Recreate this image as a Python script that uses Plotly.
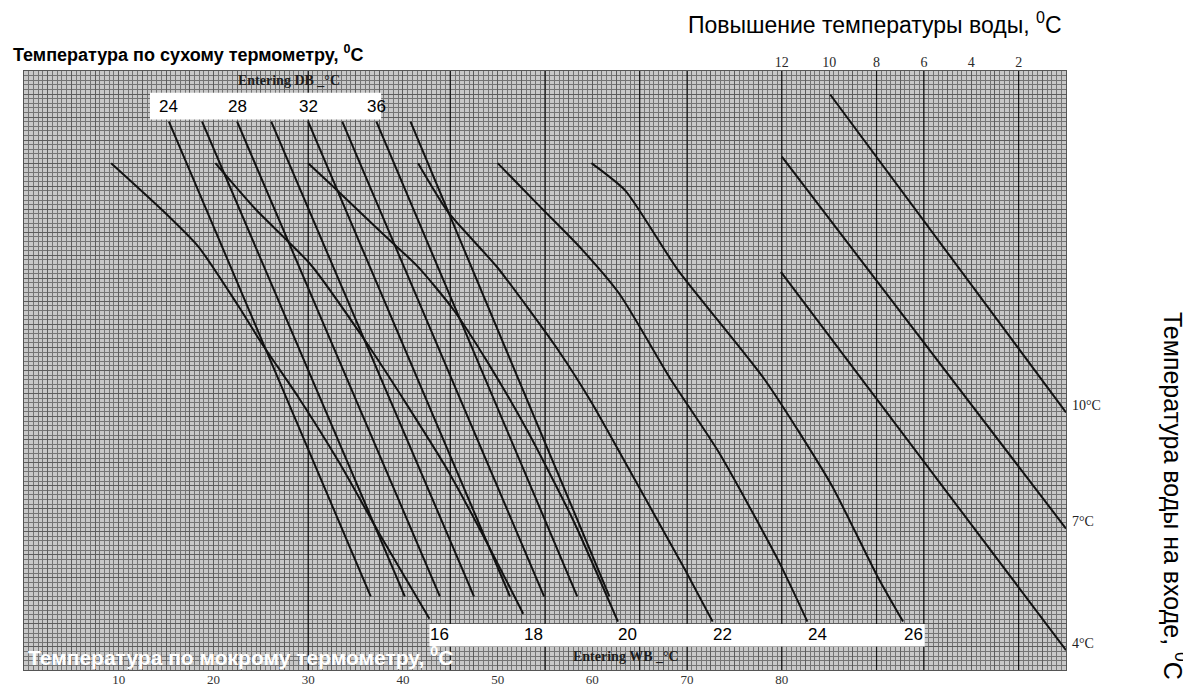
import plotly.graph_objects as go

# ---------------- data (chart units: x = bottom scale, y = grid rows x10) -------------
bottom_ticks = [10, 20, 30, 40, 50, 60, 70, 80]
rise_labels = ["12", "10", "8", "6", "4", "2"]
rise_positions = [80, 85, 90, 95, 100, 105]
dark_grid_x = [30, 45, 55, 65, 70, 80, 90, 95, 105]

# Entering dry-bulb lines (straight)
db_values = [24, 26, 28, 30, 32, 34, 36, 38]
db_x_top = [15.3, 18.8, 22.5, 26.1, 30.0, 33.6, 37.2, 40.8]
db_x_bottom = [36.6, 40.2, 43.9, 47.5, 51.3, 54.9, 58.4, 61.8]
db_y_top = 119
db_y_bottom = 16
db_labelled = [24, 28, 32, 36]

# Entering wet-bulb curves
wb_values = [16, 18, 20, 22, 24, 26]
wb16_x = [9.2, 14.5, 18.4, 22.6, 25.0, 29.0, 33.2, 37.9, 42.8]
wb16_y = [110, 100.0, 91.9, 79.1, 71.2, 59.1, 45.3, 28.2, 11.1]
wb18_x = [20.2, 24.4, 30.3, 36.0, 40.6, 44.8, 49.0, 52.7]
wb18_y = [110, 100.1, 87.9, 71.5, 57.0, 43.1, 27.1, 12.2]
wb20_x = [30.0, 32.6, 37.7, 41.6, 45.3, 49.0, 53.2, 58.0, 62.7]
wb20_y = [110, 105.0, 95.0, 87.5, 78.3, 66.6, 51.7, 32.4, 10.5]
wb22_x = [41.6, 44.8, 50.0, 56.4, 59.9, 63.4, 66.9, 69.8, 72.7]
wb22_y = [110, 99.3, 87.3, 69.4, 58.1, 45.3, 32.4, 21.7, 10.5]
wb24_x = [50.0, 54.6, 58.8, 62.9, 68.3, 73.3, 79.6, 82.7]
wb24_y = [110, 100.3, 91.5, 81.5, 63.0, 47.4, 23.9, 10.5]
wb26_x = [59.9, 63.5, 69.0, 78.2, 85.2, 90.1, 92.8]
wb26_y = [110, 104.0, 86.9, 63.0, 40.3, 20.3, 10.5]

# Entering water temperature lines
ewt_values = [10, 7, 4]
ewt_x_start = [85.1, 80.0, 79.9]
ewt_y_start = [124.9, 111.4, 86.4]
ewt_x_end = [110, 110, 110]
ewt_y_end = [55.9, 30.7, 4.3]

# ---------------- figure ----------------
LINE = dict(color="#121212", width=2)
fig = go.Figure()

for v, xt, xb in zip(db_values, db_x_top, db_x_bottom):
    fig.add_trace(go.Scatter(x=[xt, xb], y=[db_y_top, db_y_bottom], mode="lines",
                             line=LINE, name=f"DB {v}", hoverinfo="name"))

wb_curves = [(wb16_x, wb16_y), (wb18_x, wb18_y), (wb20_x, wb20_y),
             (wb22_x, wb22_y), (wb24_x, wb24_y), (wb26_x, wb26_y)]
for v, (cx, cy) in zip(wb_values, wb_curves):
    fig.add_trace(go.Scatter(x=cx, y=cy, mode="lines",
                             line=dict(color=LINE["color"], width=LINE["width"], shape="spline", smoothing=0.6),
                             name=f"WB {v}", hoverinfo="name"))

for v, xs, ys, xe, ye in zip(ewt_values, ewt_x_start, ewt_y_start, ewt_x_end, ewt_y_end):
    fig.add_trace(go.Scatter(x=[xs, xe], y=[ys, ye], mode="lines", line=LINE,
                             name=f"{v}°C", hoverinfo="name", cliponaxis=False))

# dummy traces so overlay axes are drawn
fig.add_trace(go.Scatter(x=[None], y=[None], xaxis="x2", showlegend=False, hoverinfo="skip"))
fig.add_trace(go.Scatter(x=[None], y=[None], xaxis="x3", showlegend=False, hoverinfo="skip"))
fig.add_trace(go.Scatter(x=[None], y=[None], xaxis="x4", yaxis="y2", showlegend=False, hoverinfo="skip"))

XR = [0, 110]
YR = [0, 130]
fig.update_layout(
    width=1191, height=691,
    margin=dict(l=16, r=133, t=63, b=19),
    paper_bgcolor="white", plot_bgcolor="#c8c8c8",
    showlegend=False,
    xaxis=dict(range=XR, tick0=0, dtick=5, showgrid=True, gridcolor="#4a4a4a", gridwidth=1,
               minor=dict(dtick=0.5, showgrid=True, gridcolor="#747474", gridwidth=1),
               showticklabels=False, ticks="", zeroline=False,
               showline=True, mirror=True, linecolor="#555", linewidth=1),
    yaxis=dict(range=YR, tick0=0, dtick=10, showgrid=True, gridcolor="#1e1e1e", gridwidth=1,
               minor=dict(dtick=1, showgrid=True, gridcolor="#747474", gridwidth=1),
               showticklabels=False, ticks="", zeroline=False,
               showline=True, mirror=True, linecolor="#555", linewidth=1),
    xaxis4=dict(range=XR, overlaying="x", anchor="y", tick0=0, dtick=2.5, showgrid=True,
                gridcolor="#5c5c5c", gridwidth=1, showticklabels=False, ticks="", zeroline=False),
    yaxis2=dict(range=YR, overlaying="y", anchor="x", tick0=0, dtick=5, showgrid=True,
                gridcolor="#5c5c5c", gridwidth=1, showticklabels=False, ticks="", zeroline=False),
    xaxis2=dict(range=XR, overlaying="x", anchor="y", side="bottom", tickmode="array",
                tickvals=bottom_ticks, ticktext=[str(t) for t in bottom_ticks],
                showgrid=False, zeroline=False, ticks="",
                tickfont=dict(family="Liberation Serif", size=13, color="#333")),
    xaxis3=dict(range=XR, overlaying="x", anchor="y", side="top", tickmode="array",
                tickvals=rise_positions, ticktext=rise_labels,
                showgrid=False, zeroline=False, ticks="",
                tickfont=dict(family="Liberation Serif", size=14, color="#2a2a2a")),
)

# darker vertical rulings seen on the scanned paper
for gx in dark_grid_x:
    fig.add_shape(type="line", xref="x", yref="y", x0=gx, x1=gx, y0=YR[0], y1=YR[1],
                  line=dict(color="#151515", width=1.2), layer="between")

# white label boxes
fig.add_shape(type="rect", xref="x", yref="y", x0=13.3, x1=37.7, y0=119.5, y1=125.3,
              fillcolor="white", line=dict(width=0), layer="between")
fig.add_shape(type="rect", xref="x", yref="y", x0=42.8, x1=95.1, y0=5.1, y1=10.0,
              fillcolor="white", line=dict(width=0), layer="between")

ann = []
for v, xt in zip(db_values, db_x_top):
    if v in db_labelled:
        ann.append(dict(x=xt, y=122.4, xref="x", yref="y", text=str(v), showarrow=False,
                        font=dict(family="Liberation Sans", size=17, color="black")))
for v, (cx, cy) in zip(wb_values, wb_curves):
    ann.append(dict(x=cx[-1], y=7.6, xref="x", yref="y", text=str(v), showarrow=False,
                    xshift=10, font=dict(family="Liberation Sans", size=17, color="black")))
for v, xe, ye in zip(ewt_values, ewt_x_end, ewt_y_end):
    ann.append(dict(x=xe, y=ye, xref="x", yref="y", text=f"{v}°C", showarrow=False,
                    xanchor="left", xshift=4, yshift=7,
                    font=dict(family="Liberation Serif", size=14, color="#222")))

ann += [
    dict(x=-0.012, y=1.03, xref="paper", yref="paper", xanchor="left", yanchor="middle",
         text="<b>Температура по сухому термометру, <sup>0</sup>C</b>", showarrow=False,
         font=dict(family="Liberation Sans", size=18, color="black")),
    dict(x=0.998, y=1.08, xref="paper", yref="paper", xanchor="right", yanchor="middle",
         text="Повышение температуры воды, <sup>0</sup>C", showarrow=False,
         font=dict(family="Liberation Sans", size=23, color="black")),
    dict(x=1.104, y=0.29, xref="paper", yref="paper", xanchor="center", yanchor="middle",
         text="Температура воды на входе, <sup>0</sup>C", showarrow=False, textangle=90,
         font=dict(family="Liberation Sans", size=25, color="black")),
    dict(x=0.002, y=0.023, xref="paper", yref="paper", xanchor="left", yanchor="middle",
         text="<b>Температура по мокрому термометру, <sup>0</sup>C</b>", showarrow=False,
         font=dict(family="Liberation Sans", size=21, color="white")),
    dict(x=28.0, y=127.9, xref="x", yref="y", text="<b>Entering DB _°C</b>", showarrow=False,
         font=dict(family="Liberation Serif", size=14, color="#1e1e1e")),
    dict(x=63.6, y=3.0, xref="x", yref="y", text="<b>Entering WB _°C</b>", showarrow=False,
         font=dict(family="Liberation Serif", size=14, color="#1e1e1e")),
]
fig.update_layout(annotations=ann)

fig.write_html("out.html")
